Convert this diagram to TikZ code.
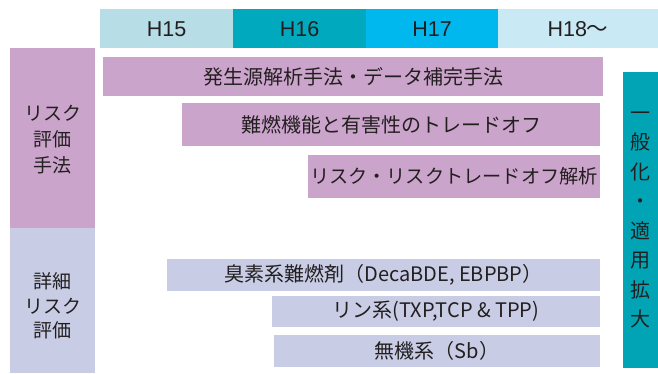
\documentclass[tikz,border=0pt]{standalone}
\usepackage{fontspec}
\setmainfont{Noto Sans CJK JP}
\newfontfamily\hdrfont{Liberation Sans}
\definecolor{hA}{HTML}{B7DDE7}
\definecolor{hB}{HTML}{00A9BE}
\definecolor{hC}{HTML}{00B8EE}
\definecolor{hD}{HTML}{C9E9F4}
\definecolor{pur}{HTML}{CBA4CC}
\definecolor{lav}{HTML}{C8CDE5}
\definecolor{teal}{HTML}{00A4B5}
\definecolor{ink}{HTML}{231F20}
\begin{document}
\begin{tikzpicture}[x=1pt,y=-1pt,
  box/.style={inner sep=0pt, outer sep=0pt, text=ink, font=\fontsize{20}{26}\selectfont, align=center},
  lbl/.style={box, font=\fontsize{19}{26}\selectfont},
  hdr/.style={box, font=\hdrfont\fontsize{21.5}{24}\selectfont}]
\useasboundingbox (0,0) rectangle (658,374);
% header
\node[hdr, fill=hA, minimum width=133pt, minimum height=39pt] (h15) at (166.5,29) {H15};
\node[hdr, fill=hB, minimum width=133pt, minimum height=39pt] (h16) at (299.5,29) {H16};
\node[hdr, fill=hC, minimum width=132pt, minimum height=39pt] (h17) at (432,29) {H17};
\node[hdr, fill=hD, minimum width=160pt, minimum height=39pt] (h18) at (578,29) {H18{\rmfamily 〜}};
% left labels
\node[box, fill=pur, minimum width=85pt, minimum height=180pt] (risk) at (52.5,138) {};
\node[lbl] (risktxt) at (52.5,139.5) {リスク\\評価\\手法};
\node[box, fill=lav, minimum width=85pt, minimum height=145pt] (detail) at (52.5,300.5) {};
\node[lbl, font=\fontsize{19}{24.5}\selectfont] (detailtxt) at (52.5,306) {詳細\\リスク\\評価};
% purple bars
\node[box, fill=pur, minimum width=500pt, minimum height=39pt] (b1) at (353,76.5) {発生源解析手法・データ補完手法};
\node[box, fill=pur, minimum width=418pt, minimum height=43pt] (b2) at (391,124.5) {難燃機能と有害性のトレードオフ};
\node[box, fill=pur, minimum width=292pt, minimum height=43pt, font=\fontsize{19.2}{26}\selectfont] (b3) at (454,176.5) {リスク・リスクトレードオフ解析};
% lavender bars
\node[box, fill=lav, minimum width=433pt, minimum height=32pt] (b4) at (383.5,275) {臭素系難燃剤（DecaBDE, EBPBP）};
\node[box, fill=lav, minimum width=328pt, minimum height=31pt] (b5) at (436,311.5) {リン系(TXP,TCP \& TPP)};
\node[box, fill=lav, minimum width=326pt, minimum height=32pt] (b6) at (437,351) {無機系（Sb）};
% right teal bar
\node[box, fill=teal, minimum width=35pt, minimum height=296pt, font=\fontsize{20}{29.5}\selectfont] (gen) at (640.5,220) {一\\般\\化\\・\\適\\用\\拡\\大};
\end{tikzpicture}
\end{document}
